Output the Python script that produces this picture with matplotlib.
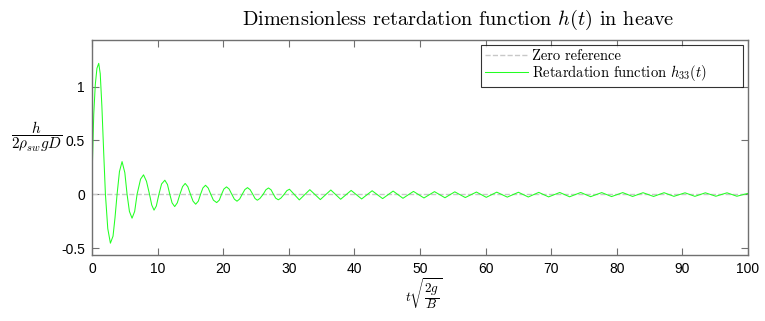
import matplotlib
matplotlib.use('Agg')
import matplotlib.pyplot as plt

plt.rcParams['mathtext.fontset'] = 'cm'

# Valores (tiempo adimensional, h adimensional)
t_vals = [0, 0.1, 0.26, 0.5, 0.75, 1.02, 1.25, 1.5, 1.79, 2.04, 2.4, 2.8, 3.2, 3.5,
          3.82, 4.18, 4.58, 5.0, 5.34, 5.7, 6.1, 6.5, 6.87, 7.4, 7.85, 8.3, 8.76,
          9.1, 9.45, 9.8, 10.2, 10.6, 11.1, 11.5, 11.85, 12.2, 12.6, 13.0, 13.4,
          13.8, 14.2, 14.6, 15.0, 15.4, 15.8, 16.2, 16.55, 16.9, 17.3, 17.7, 18.1,
          18.5, 19.0, 19.4, 19.75, 20.1, 20.5, 20.9, 21.3, 21.7, 22.1, 22.5, 22.9,
          23.3, 23.7, 24.1, 24.5, 24.85, 25.2, 25.6, 26.1, 26.5, 26.9, 27.3, 27.65,
          28.0, 28.4, 28.8, 29.3, 29.7, 30.1,
          31.6, 33.2, 34.8, 36.4, 37.9, 39.5, 41.1,
          42.7, 44.3, 45.9, 47.4, 49.0, 50.6, 52.2, 53.8, 55.3, 56.9, 58.6, 60.1,
          61.7, 63.3, 65.0, 66.5, 68.1, 69.6, 71.3, 72.8, 74.5, 76.0, 77.7, 79.2,
          80.9, 82.4, 84.0, 85.6, 87.2, 88.7, 90.4, 91.9, 93.5, 95.1, 96.8, 98.3,
          100.0]
h_vals = [0.15, 0.38, 0.74, 1.02, 1.17, 1.216, 1.12, 0.82, 0.37, 0.0, -0.32, -0.455,
          -0.39, -0.22, 0.0, 0.21, 0.303, 0.20, 0.0, -0.16, -0.223, -0.16, 0.0, 0.14,
          0.18, 0.12, 0.0, -0.10, -0.148, -0.11, 0.0, 0.095, 0.13, 0.09, 0.0, -0.08,
          -0.115, -0.08, 0.0, 0.07, 0.10, 0.07, 0.0, -0.065, -0.093, -0.065, 0.0,
          0.058, 0.083, 0.058, 0.0, -0.055, -0.078, -0.055, 0.0, 0.048, 0.068, 0.048,
          0.0, -0.046, -0.065, -0.045, 0.0, 0.043, 0.061, 0.042, 0.0, -0.04, -0.056,
          -0.039, 0.0, 0.041, 0.058, 0.04, 0.0, -0.037, -0.052, -0.036, 0.0, 0.033,
          0.046,
          -0.053, 0.042, -0.050, 0.039, -0.047,
          0.035, -0.044, 0.032, -0.041, 0.029, -0.038, 0.026, -0.035, 0.024, -0.033,
          0.022, -0.031, 0.020, -0.029, 0.019, -0.027, 0.018, -0.026, 0.017, -0.025,
          0.016, -0.024, 0.016, -0.023, 0.015, -0.022, 0.015, -0.021, 0.014, -0.021,
          0.014, -0.020, 0.013, -0.020, 0.013, -0.019, 0.013, -0.019, 0.008]

x_limits = [0, 100]
x_ticks = [0, 10, 20, 30, 40, 50, 60, 70, 80, 90, 100]
y_ticks = [-0.5, 0, 0.5, 1]
y_tick_labels = ['-0.5', '0', '0.5', '1']

fig = plt.figure(figsize=(7.65, 3.21), dpi=100)
ax = fig.add_axes([0.1203, 0.2056, 0.8575, 0.6698])

# Linea de referencia y funcion de retardo
ax.plot(x_limits, [0, 0], '--', color='#c8c8c8', lw=1.0, label='Zero reference')
ax.plot(t_vals, h_vals, color='#22ff22', lw=0.75,
        label=r'Retardation function $h_{33}(t)$')

ax.set_xlim(0, 100)
ax.set_ylim(-0.565, 1.433)
ax.set_xticks(x_ticks)
ax.set_yticks(y_ticks)
ax.set_yticklabels(y_tick_labels)

axis_color = '#707070'
for s in ax.spines.values():
    s.set_color(axis_color)
    s.set_linewidth(1.0)
ax.tick_params(direction='in', length=5, width=0.8, color=axis_color,
               top=True, right=True, labelsize=10, labelcolor='black', pad=5)
for lab in ax.get_xticklabels() + ax.get_yticklabels():
    lab.set_fontfamily('Liberation Sans')

ax.set_title(r'Dimensionless retardation function $h(t)$ in heave',
             fontfamily='cmr10', fontsize=14.6, pad=11, x=0.558)
ax.set_xlabel(r'$t\sqrt{\dfrac{2g}{B}}$', fontsize=9.5, va='center')
ax.xaxis.set_label_coords(0.506, -0.182)
ax.set_ylabel(r'$\dfrac{h}{2\rho_{sw}gD}$', fontsize=11, rotation=0,
              ha='center', va='center')
ax.yaxis.set_label_coords(-0.084, 0.55)

leg = ax.legend(loc='upper left', bbox_to_anchor=(0.593, 0.791, 0.399, 0.186),
                mode='expand', prop={'family': 'cmr10', 'size': 10.5},
                frameon=True, fancybox=False, borderaxespad=0.0,
                handlelength=2.9, handletextpad=0.3, labelspacing=0.0,
                borderpad=0.3)
leg.get_frame().set_edgecolor('black')
leg.get_frame().set_linewidth(0.8)

fig.savefig('out.png', dpi=100)
